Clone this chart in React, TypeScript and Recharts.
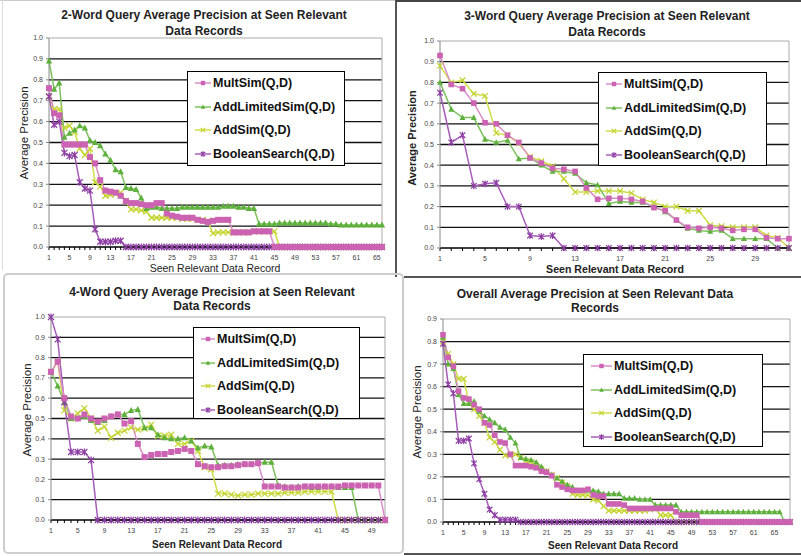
import React from 'react';
import { LineChart, Line, XAxis, YAxis, ReferenceLine, Legend } from 'recharts';

const FONT = '"Liberation Sans", Arial, sans-serif';

const SERIES_NAMES = ['MultSim(Q,D)', 'AddLimitedSim(Q,D)', 'AddSim(Q,D)', 'BooleanSearch(Q,D)'];
const SERIES_KEYS = ['mult', 'addLim', 'add', 'bool'];

// ---------- 2-word query (66 records) ----------
const mult2w = [0.76,0.64,0.63,0.49,0.49,0.49,0.49,0.49,0.43,0.40,0.32,0.27,0.265,0.26,0.245,0.22,0.21,0.21,0.205,0.20,0.20,0.21,0.21,0.16,0.15,0.145,0.14,0.14,0.14,0.13,0.125,0.12,0.125,0.13,0.13,0.13,0.07,0.07,0.07,0.07,0.075,0.075,0.075,0.075,0,0,0,0,0,0,0,0,0,0,0,0,0,0,0,0,0,0,0,0,0,0];
const addLim2w = [0.89,0.755,0.785,0.525,0.545,0.56,0.58,0.57,0.51,0.50,0.485,0.445,0.415,0.37,0.36,0.285,0.28,0.275,0.235,0.185,0.19,0.19,0.185,0.185,0.185,0.185,0.19,0.19,0.19,0.19,0.19,0.19,0.19,0.19,0.195,0.195,0.195,0.19,0.19,0.185,0.185,0.11,0.11,0.11,0.11,0.115,0.115,0.115,0.115,0.115,0.115,0.115,0.115,0.115,0.115,0.11,0.11,0.105,0.105,0.105,0.105,0.105,0.105,0.105,0.105,0.105];
const add2w = [0.72,0.66,0.66,0.57,0.58,0.55,0.47,0.44,0.47,0.31,0.29,0.245,0.25,0.255,0.26,0.22,0.18,0.18,0.175,0.17,0.14,0.14,0.14,0.14,0.14,0.14,0.135,0.135,0.135,0.13,0.13,0.125,0.065,0.07,0.07,0.07,0.07,0.07,0.07,0.07,0.075,0.075,0.075,0.075,0.075,0,0,0,0,0,0,0,0,0,0,0,0,0,0,0,0,0,0,0,0,0];
const bool2w = [0.72,0.585,0.60,0.45,0.435,0.44,0.31,0.28,0.27,0.085,0.025,0.025,0.025,0.03,0.03,0,0,0,0,0,0,0,0,0,0,0,0,0,0,0,0,0,0,0,0,0,0,0,0,0,0,0,0,0,0,0,0,0,0,0,0,0,0,0,0,0,0,0,0,0,0,0,0,0,0,0];

// ---------- 3-word query (32 records) ----------
const mult3w = [0.93,0.79,0.77,0.70,0.605,0.60,0.545,0.51,0.435,0.41,0.385,0.38,0.37,0.29,0.235,0.24,0.24,0.235,0.225,0.195,0.18,0.135,0.10,0.095,0.10,0.095,0.085,0.09,0.09,0.05,0.045,0.045];
const addLim3w = [0.80,0.67,0.63,0.63,0.525,0.51,0.52,0.43,0.435,0.40,0.37,0.37,0.36,0.315,0.305,0.215,0.225,0.22,0.22,0.20,0.175,0.135,0.095,0.085,0.08,0.085,0.045,0.045,0.045,0.045,0,0];
const add3w = [0.88,0.80,0.81,0.745,0.735,0.555,0.545,0.505,0.44,0.42,0.395,0.335,0.27,0.27,0.275,0.275,0.275,0.265,0.235,0.22,0.20,0.20,0.18,0.18,0.11,0.105,0.10,0.10,0.10,0.06,0.05,0];
const bool3w = [0.75,0.51,0.545,0.30,0.31,0.315,0.20,0.20,0.06,0.055,0.06,0,0,0,0,0,0,0,0,0,0,0,0,0,0,0,0,0,0,0,0,0];

// ---------- 4-word query (51 records) ----------
const mult4w = [0.73,0.78,0.60,0.51,0.50,0.52,0.50,0.485,0.50,0.51,0.52,0.475,0.487,0.375,0.31,0.32,0.325,0.325,0.335,0.34,0.35,0.34,0.275,0.265,0.26,0.26,0.265,0.265,0.27,0.275,0.275,0.28,0.165,0.165,0.165,0.16,0.16,0.16,0.165,0.165,0.165,0.165,0.165,0.165,0.17,0.17,0.17,0.17,0.17,0.17,0];
const addLim4w = [0.73,0.66,0.58,0.50,0.50,0.51,0.49,0.48,0.49,0.51,0.52,0.52,0.54,0.545,0.455,0.455,0.42,0.405,0.40,0.40,0.405,0.39,0.355,0.365,0.36,0.27,0.27,0.27,0.275,0.275,0.275,0.28,0.285,0.285,0.17,0.165,0.16,0.165,0.165,0.16,0.16,0.165,0.165,0.16,0.16,0.16,0,0,0,0,0];
const add4w = [0.73,0.78,0.54,0.50,0.525,0.55,0.50,0.44,0.46,0.405,0.43,0.44,0.455,0.445,0.45,0.47,0.415,0.415,0.42,0.375,0.375,0.39,0.34,0.26,0.25,0.13,0.13,0.125,0.12,0.125,0.125,0.13,0.13,0.13,0.13,0.135,0.135,0.135,0.14,0.14,0.14,0.14,0.14,0,0,0,0,0,0,0,0];
const bool4w = [1.0,0.89,0.58,0.335,0.335,0.335,0.295,0,0,0,0,0,0,0,0,0,0,0,0,0,0,0,0,0,0,0,0,0,0,0,0,0,0,0,0,0,0,0,0,0,0,0,0,0,0,0,0,0,0,0,0];

// ---------- Overall (68 records) ----------
const multAll = [0.83,0.73,0.69,0.58,0.55,0.545,0.52,0.50,0.44,0.43,0.385,0.355,0.35,0.30,0.25,0.25,0.25,0.245,0.24,0.225,0.22,0.205,0.165,0.155,0.145,0.14,0.14,0.14,0.145,0.12,0.115,0.115,0.08,0.08,0.08,0.075,0.06,0.06,0.06,0.06,0.06,0.06,0.06,0.06,0.06,0.045,0.03,0.03,0.03,0.03,0,0,0,0,0,0,0,0,0,0,0,0,0,0,0,0,0,0];
const addLimAll = [0.82,0.70,0.68,0.565,0.525,0.525,0.535,0.49,0.47,0.455,0.44,0.42,0.41,0.375,0.35,0.285,0.28,0.275,0.265,0.245,0.225,0.21,0.195,0.18,0.165,0.155,0.14,0.14,0.14,0.14,0.135,0.125,0.125,0.125,0.125,0.105,0.105,0.105,0.10,0.10,0.10,0.075,0.075,0.075,0.075,0.075,0.045,0.045,0.045,0.045,0.045,0.045,0.045,0.045,0.045,0.045,0.045,0.045,0.045,0.045,0.045,0.045,0.045,0.045,0.045,0.045,0,0];
const addAll = [0.80,0.745,0.70,0.635,0.635,0.53,0.50,0.47,0.44,0.375,0.355,0.32,0.295,0.295,0.30,0.285,0.27,0.265,0.25,0.235,0.225,0.21,0.195,0.175,0.16,0.125,0.12,0.12,0.12,0.10,0.095,0.07,0.05,0.05,0.05,0.05,0.05,0.05,0.05,0.05,0.055,0.06,0.03,0.03,0.03,0,0,0,0,0,0,0,0,0,0,0,0,0,0,0,0,0,0,0,0,0,0,0];
const boolAll = [0.79,0.61,0.57,0.36,0.36,0.37,0.26,0.19,0.125,0.055,0.03,0.01,0.01,0.01,0.01,0,0,0,0,0,0,0,0,0,0,0,0,0,0,0,0,0,0,0,0,0,0,0,0,0,0,0,0,0,0,0,0,0,0,0,0,0,0,0,0,0,0,0,0,0,0,0,0,0,0,0,0,0];

const Y_TICKS_10 = [0, 0.1, 0.2, 0.3, 0.4, 0.5, 0.6, 0.7, 0.8, 0.9, 1.0];
const Y_TICKS_09 = [0, 0.1, 0.2, 0.3, 0.4, 0.5, 0.6, 0.7, 0.8, 0.9];
const GRID_10 = [0.1, 0.2, 0.3, 0.4, 0.5, 0.6, 0.7, 0.8, 0.9];
const GRID_09 = [0.1, 0.2, 0.3, 0.4, 0.5, 0.6, 0.7, 0.8];

const STYLES = [
  { line: '#DA8CC8', mark: '#CC62B2', kind: 'square' },
  { line: '#7CC25C', mark: '#5DB03C', kind: 'triangle' },
  { line: '#D0DD48', mark: '#C2D22C', kind: 'x' },
  { line: '#A75CB9', mark: '#8C3EA2', kind: 'star' },
];
const DRAW_ORDER = [2, 1, 3, 0];

function marker(kind: string, color: string, cx: number, cy: number, s: number, key?: string) {
  if (cx == null || cy == null) return <g key={key} />;
  switch (kind) {
    case 'square':
      return <rect key={key} x={cx - s} y={cy - s} width={2 * s} height={2 * s} fill={color} />;
    case 'triangle':
      return <path key={key} d={`M${cx},${cy - s * 1.15}L${cx + s * 1.05},${cy + s * 0.85}L${cx - s * 1.05},${cy + s * 0.85}Z`} fill={color} />;
    case 'x':
      return <path key={key} d={`M${cx - s},${cy - s}L${cx + s},${cy + s}M${cx - s},${cy + s}L${cx + s},${cy - s}`} stroke={color} strokeWidth={1.2} fill="none" />;
    default:
      return <path key={key} d={`M${cx - s},${cy - s}L${cx + s},${cy + s}M${cx - s},${cy + s}L${cx + s},${cy - s}M${cx},${cy - s * 1.2}L${cx},${cy + s * 1.2}`} stroke={color} strokeWidth={1.2} fill="none" />;
  }
}

const PANELS = [
  {
    id: 'p2w', left: 0, top: 0, width: 395, height: 276,
    plotLeft: 49, plotRight: 382, plotTop: 38, plotBottom: 247,
    yMax: 1.0, yTicks: Y_TICKS_10, grid: GRID_10,
    title: ['2-Word Query Average Precision at Seen Relevant', 'Data Records'], titleX: 204, titleY: [15, 31],
    yTitle: { x: 24, y: 133, bold: false, size: 11.5 },
    xTitle: { x: 215, y: 268, bold: false, size: 10.5 },
    legend: { left: 187, top: 71, width: 158, height: 95, textOffset: 25 },
    series: [mult2w, addLim2w, add2w, bool2w], markSize: 3,
  },
  {
    id: 'p3w', left: 396, top: 0, width: 405, height: 276,
    plotLeft: 44, plotRight: 393, plotTop: 41, plotBottom: 248,
    yMax: 1.0, yTicks: Y_TICKS_10, grid: GRID_10,
    title: ['3-Word Query Average Precision at Seen Relevant', 'Data Records'], titleX: 211, titleY: [16, 32],
    yTitle: { x: 16, y: 138, bold: true, size: 11 },
    xTitle: { x: 219, y: 269, bold: true, size: 10.6 },
    legend: { left: 202, top: 72, width: 169, height: 94, textOffset: 25 },
    series: [mult3w, addLim3w, add3w, bool3w], markSize: 2.8,
  },
  {
    id: 'p4w', left: 0, top: 276, width: 403, height: 280,
    plotLeft: 51, plotRight: 385, plotTop: 41, plotBottom: 244,
    yMax: 1.0, yTicks: Y_TICKS_10, grid: GRID_10,
    title: ['4-Word Query Average Precision at Seen Relevant', 'Data Records'], titleX: 212, titleY: [16, 30],
    yTitle: { x: 27, y: 134, bold: false, size: 11.5 },
    xTitle: { x: 217, y: 269, bold: true, size: 10 },
    legend: { left: 193, top: 51, width: 167, height: 92, textOffset: 23 },
    series: [mult4w, addLim4w, add4w, bool4w], markSize: 3,
  },
  {
    id: 'pall', left: 404, top: 276, width: 397, height: 280,
    plotLeft: 39, plotRight: 386, plotTop: 43, plotBottom: 246,
    yMax: 0.9, yTicks: Y_TICKS_09, grid: GRID_09,
    title: ['Overall Average Precision at Seen Relevant Data', 'Records'], titleX: 191, titleY: [18, 32],
    yTitle: { x: 13, y: 136, bold: false, size: 11.5 },
    xTitle: { x: 209, y: 270, bold: true, size: 10 },
    legend: { left: 179, top: 78, width: 180, height: 93, textOffset: 30 },
    series: [multAll, addLimAll, addAll, boolAll], markSize: 2.8,
  },
];

function LegendBox({ lg }: any) {
  return (
    <div style={{ width: lg.width, height: lg.height, border: '1px solid #000', background: '#fff', boxSizing: 'border-box', position: 'relative', fontFamily: FONT }}>
      {SERIES_NAMES.map((name, i) => {
        const st = STYLES[i];
        const w = lg.textOffset;
        return (
          <div key={name} style={{ position: 'absolute', left: 0, top: 11 + i * 23.5 - 9, height: 18, display: 'flex', alignItems: 'center' }}>
            <svg width={w} height={18} style={{ display: 'block' }}>
              <line x1={7} x2={w - 2} y1={9} y2={9} stroke={st.line} strokeWidth={1.5} />
              {marker(st.kind, st.mark, (7 + w - 2) / 2, 9, 2.2)}
            </svg>
            <span style={{ fontSize: 12.5, fontWeight: 'bold', color: '#111', whiteSpace: 'nowrap', lineHeight: '18px' }}>{name}</span>
          </div>
        );
      })}
    </div>
  );
}

function XTick(props: any) {
  const { x, y, payload } = props;
  if ((Number(payload.value) - 1) % 4 !== 0) return <g />;
  return (
    <text x={x} y={y} dy={8} textAnchor="middle" fontSize={7} fill="#444" fontFamily={FONT}>
      {payload.value}
    </text>
  );
}

function Panel({ p }: any) {
  const data = p.series[0].map((_: number, i: number) => {
    const row: any = { cat: i + 1 };
    SERIES_KEYS.forEach((k, j) => { row[k] = p.series[j][i]; });
    return row;
  });
  const last = data.length;
  return (
    <div style={{ position: 'absolute', left: p.left, top: p.top, width: p.width, height: p.height, fontFamily: FONT }}>
      {p.title.map((t: string, i: number) => (
        <div key={i} style={{ position: 'absolute', left: p.titleX - 200, width: 400, top: p.titleY[i] - 8, height: 16, lineHeight: '16px', textAlign: 'center', fontSize: 12, fontWeight: 'bold', color: '#222', whiteSpace: 'nowrap' }}>{t}</div>
      ))}
      <div style={{ position: 'absolute', left: p.yTitle.x - 70, top: p.yTitle.y - 8, width: 140, height: 16, lineHeight: '16px', textAlign: 'center', fontSize: p.yTitle.size, fontWeight: p.yTitle.bold ? 'bold' : 'normal', color: '#222', transform: 'rotate(-90deg)', whiteSpace: 'nowrap' }}>Average Precision</div>
      <div style={{ position: 'absolute', left: p.xTitle.x - 120, top: p.xTitle.y - 8, width: 240, height: 16, lineHeight: '16px', textAlign: 'center', fontSize: p.xTitle.size, fontWeight: p.xTitle.bold ? 'bold' : 'normal', color: '#222', whiteSpace: 'nowrap' }}>Seen Relevant Data Record</div>
      <div style={{ position: 'absolute', left: 0, top: 0 }}>
        <LineChart width={p.width} height={p.height} data={data} margin={{ top: p.plotTop, right: p.width - p.plotRight, bottom: 0, left: 0 }}>
          <XAxis dataKey="cat" interval={0} height={p.height - p.plotBottom} tickSize={3} tick={(tp: any) => <XTick {...tp} />} axisLine={{ stroke: '#000', strokeWidth: 1.3 }} tickLine={{ stroke: '#000' }} />
          <YAxis type="number" domain={[0, p.yMax]} ticks={p.yTicks} width={p.plotLeft} tickSize={3} tickMargin={3} interval={0}
            tickFormatter={(v: number) => v.toFixed(1)} tick={{ fontSize: 7, fill: '#444', fontFamily: FONT }}
            axisLine={{ stroke: '#888' }} tickLine={{ stroke: '#888' }} />
          {p.grid.map((v: number) => <ReferenceLine key={v} y={v} stroke="#111" strokeWidth={1.3} />)}
          <ReferenceLine y={p.yMax} stroke="#aaa" />
          <ReferenceLine x={last} stroke="#aaa" />
          {DRAW_ORDER.map((j) => {
            const st = STYLES[j];
            return (
              <Line key={SERIES_KEYS[j]} dataKey={SERIES_KEYS[j]} name={SERIES_NAMES[j]} stroke={st.line} strokeWidth={1.5}
                isAnimationActive={false} activeDot={false}
                dot={(dp: any) => marker(st.kind, st.mark, dp.cx, dp.cy, p.markSize, `d-${SERIES_KEYS[j]}-${dp.index}`)} />
            );
          })}
          <Legend layout="vertical" align="center" verticalAlign="middle"
            wrapperStyle={{ left: p.legend.left, top: p.legend.top, width: p.legend.width, height: p.legend.height }}
            content={() => <LegendBox lg={p.legend} />} />
        </LineChart>
      </div>
    </div>
  );
}

export default function App() {
  return (
    <div style={{ position: 'absolute', left: 0, top: 0, width: 801, height: 556, background: '#fff', overflow: 'hidden', fontFamily: FONT }}>
      {PANELS.map((p) => <Panel key={p.id} p={p} />)}
      <div style={{ position: 'absolute', left: 395, top: 0, width: 2, height: 277, background: '#555' }} />
      <div style={{ position: 'absolute', left: 396, top: 0, width: 405, height: 1.5, background: '#444' }} />
      <div style={{ position: 'absolute', left: 0, top: 0, width: 395, height: 1, background: '#ccc' }} />
      <div style={{ position: 'absolute', left: 2, top: 0, width: 1, height: 270, background: '#ddd' }} />
      <div style={{ position: 'absolute', left: 404, top: 276, width: 397, height: 1.5, background: '#555' }} />
      <div style={{ position: 'absolute', left: 404, top: 553, width: 397, height: 1.5, background: '#555' }} />
      <div style={{ position: 'absolute', left: 3, top: 273, width: 397, height: 277, border: '2px solid #cdcdcd', borderRadius: 5, pointerEvents: 'none' }} />
    </div>
  );
}
